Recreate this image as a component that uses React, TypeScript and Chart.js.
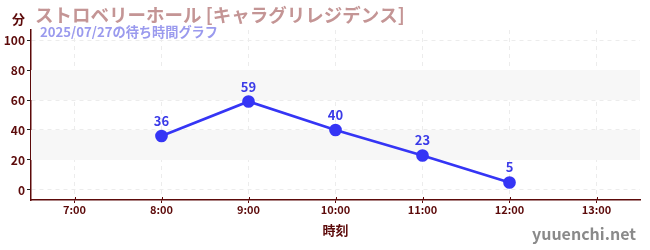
import React, { useEffect, useRef } from "react";
import { Chart, registerables } from "chart.js";

Chart.register(...registerables);

const hours = [8, 9, 10, 11, 12];
const waits = [36, 59, 40, 23, 5];
const xTickHours = [7, 8, 9, 10, 11, 12, 13];
const yTickValues = [0, 10, 20, 30, 40, 50, 60, 70, 80, 90, 100];
const bands = [
  [20, 40],
  [60, 80],
];
const titleText = "ストロベリーホール [キャラグリレジデンス]";
const subtitleText = "2025/07/27の待ち時間グラフ";
const unitText = "分";
const xTitleText = "時刻";
const watermarkText = "yuuenchi.net";

const FONT = "'Noto Sans CJK JP', 'Noto Sans', sans-serif";
const DARK = "#5c0a0a";

const decorPlugin = {
  id: "decor",
  beforeDatasetsDraw(chart: any) {
    const { ctx, chartArea, scales } = chart;
    const y = scales.y;
    ctx.save();
    ctx.fillStyle = "#f7f7f7";
    for (const [a, b] of bands) {
      const t = y.getPixelForValue(b);
      const bt = y.getPixelForValue(a);
      ctx.fillRect(chartArea.left, t, chartArea.right - chartArea.left, bt - t);
    }
    ctx.restore();
  },
  afterDatasetsDraw(chart: any) {
    const { ctx, scales, chartArea } = chart;
    const meta = chart.getDatasetMeta(0);
    ctx.save();
    ctx.font = `bold 13px ${FONT}`;
    ctx.fillStyle = "#3a3ae8";
    ctx.textAlign = "center";
    ctx.textBaseline = "alphabetic";
    meta.data.forEach((pt: any, i: number) => {
      ctx.fillText(String(waits[i]), pt.x, pt.y - 10);
    });
    ctx.strokeStyle = DARK;
    ctx.lineWidth = 1;
    for (const h of xTickHours) {
      const px = Math.round(scales.x.getPixelForValue(h)) + 0.5;
      ctx.beginPath();
      ctx.moveTo(px, chartArea.bottom - 3);
      ctx.lineTo(px, chartArea.bottom);
      ctx.stroke();
    }
    ctx.restore();
  },
  afterDraw(chart: any) {
    const { ctx } = chart;
    ctx.save();
    ctx.textBaseline = "middle";
    ctx.textAlign = "left";
    ctx.font = `bold 13px ${FONT}`;
    ctx.fillStyle = DARK;
    ctx.fillText(unitText, 12, 19);
    ctx.font = `bold 18.5px ${FONT}`;
    ctx.fillStyle = "#c49595";
    ctx.fillText(titleText, 35, 15);
    ctx.font = `bold 13.2px ${FONT}`;
    ctx.fillStyle = "#9a9aee";
    ctx.fillText(subtitleText, 40, 32);
    ctx.font = `bold 16px ${FONT}`;
    ctx.fillStyle = "#8a8a8a";
    ctx.textAlign = "right";
    ctx.fillText(watermarkText, 636, 234);
    ctx.restore();
  },
};

export default function App() {
  const ref = useRef<HTMLCanvasElement>(null);
  useEffect(() => {
    document.body.style.margin = "0";
    const chart = new Chart(ref.current!, {
      type: "line",
      data: {
        datasets: [
          {
            data: hours.map((h, i) => ({ x: h, y: waits[i] })),
            borderColor: "#3535f5",
            backgroundColor: "#3535f5",
            borderWidth: 2.7,
            pointRadius: 5,
            pointHoverRadius: 5,
            tension: 0,
          },
        ],
      },
      plugins: [decorPlugin],
      options: {
        animation: false,
        responsive: false,
        events: [],
        layout: { padding: { top: 30, right: 10, left: 0, bottom: 0 } },
        plugins: { legend: { display: false }, tooltip: { enabled: false } },
        scales: {
          x: {
            type: "linear",
            min: 6.5,
            max: 13.5,
            afterBuildTicks: (s: any) => {
              s.ticks = xTickHours.map((v) => ({ value: v }));
            },
            afterFit: (s: any) => {
              s.height = 50;
            },
            ticks: {
              callback: (v: any) => `${v}:00`,
              color: DARK,
              font: { family: FONT, size: 11, weight: "bold" },
              padding: 0,
              maxRotation: 0,
            },
            grid: {
              color: "#ececec",
              tickColor: DARK,
              tickLength: 3,
              lineWidth: 1,
            },
            border: { color: DARK, width: 1.5, dash: [4, 4] },
            title: {
              display: true,
              text: xTitleText,
              color: DARK,
              font: { family: FONT, size: 13, weight: "bold" },
              padding: { top: 4, bottom: 12 },
            },
          },
          y: {
            type: "linear",
            min: -6.67,
            max: 106.67,
            afterBuildTicks: (s: any) => {
              s.ticks = yTickValues.map((v) => ({ value: v }));
            },
            afterFit: (s: any) => {
              s.width = 31;
            },
            ticks: {
              callback: (v: any) => (v % 20 === 0 ? String(v) : ""),
              color: DARK,
              font: { family: FONT, size: 12, weight: "bold" },
              padding: 2,
            },
            grid: {
              color: (c: any) => (c.tick && c.tick.value % 20 === 0 ? "#ececec" : "rgba(0,0,0,0)"),
              tickColor: (c: any) => (c.tick && c.tick.value % 20 === 0 ? "#222" : "#e02020"),
              tickLength: 4,
            },
            border: { color: DARK, width: 1.5, dash: [4, 4] },
          },
        },
      } as any,
    });
    return () => chart.destroy();
  }, []);
  return <canvas ref={ref} width={650} height={250} style={{ display: "block" }} />;
}
